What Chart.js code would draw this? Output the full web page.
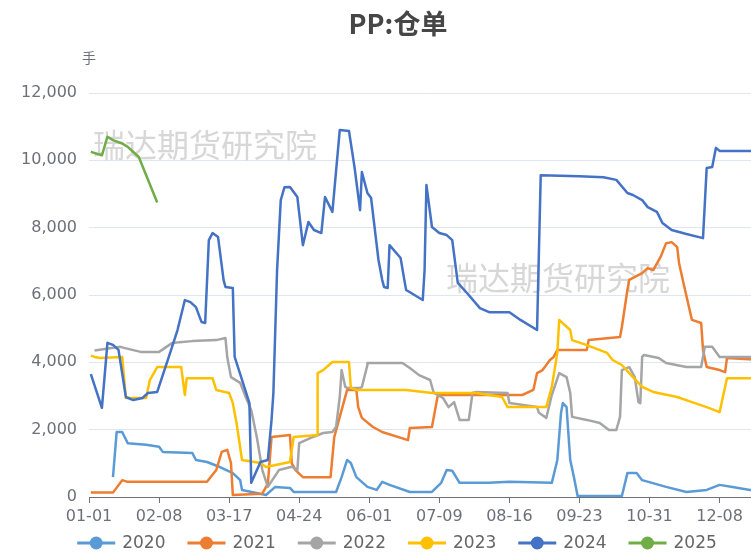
<!DOCTYPE html>
<html>
<head>
<meta charset="utf-8">
<script src="https://cdn.jsdelivr.net/npm/chart.js@4/dist/chart.umd.min.js"></script>
<style>
html,body{margin:0;padding:0;background:#fff;overflow:hidden;width:751px;height:556px;}
canvas{display:block;}
</style>
</head>
<body>
<canvas id="c" width="797" height="556"></canvas>
<script>
// ---- categories: days of the (leap) year, MM-DD ----
const monthLengths = [31,29,31,30,31,30,31,31,30,31,30,31];
const days = [];
monthLengths.forEach((n, m) => { for (let d = 1; d <= n; d++) days.push(String(m+1).padStart(2,'0') + '-' + String(d).padStart(2,'0')); });
const tickDays = [0,38,76,114,152,190,228,266,304,342];
const yTicks = [0,2000,4000,6000,8000,10000,12000];
const seriesNames = ['2020','2021','2022','2023','2024','2025'];
const seriesColors = ['#5B9BD5','#ED7D31','#A5A5A5','#FFC000','#4472C4','#70AD47'];

// ---- series values: [day index, 手] ----
const s2020 = [[13,590],[15,1930],[18,1930],[21,1600],[31,1550],[38,1490],[40,1340],[56,1310],[58,1100],[64,1040],[71,890],[78,710],[82,500],[83,210],[96,60],[101,300],[109,270],[111,150],[134,150],[137,590],[140,1100],[142,1010],[145,590],[151,300],[156,210],[159,450],[163,360],[174,150],[186,150],[191,420],[194,800],[197,780],[201,420],[217,420],[228,450],[251,420],[254,1100],[256,2500],[257,2790],[259,2670],[261,1100],[263,590],[265,30],[289,30],[292,710],[297,710],[300,500],[313,300],[324,150],[335,210],[342,360],[349,300],[365,150]];
const s2021 = [[1,130],[13,130],[18,500],[21,450],[64,450],[69,800],[72,1340],[75,1400],[77,1010],[78,60],[94,100],[97,400],[99,1780],[109,1840],[110,1000],[112,800],[116,590],[131,590],[133,1780],[137,2580],[140,3180],[145,3180],[146,2670],[148,2350],[154,2080],[159,1930],[173,1690],[174,2050],[186,2080],[189,2970],[190,3030],[235,3030],[241,3180],[243,3680],[246,3770],[250,4070],[252,4160],[254,4370],[270,4370],[271,4660],[288,4750],[289,5050],[292,6150],[293,6450],[300,6650],[303,6800],[306,6740],[310,7130],[313,7540],[316,7570],[319,7420],[320,6950],[322,6450],[327,5260],[332,5170],[333,4370],[335,3860],[342,3770],[345,3710],[346,4130],[365,4070]];
const s2022 = [[3,4350],[17,4460],[19,4430],[28,4310],[38,4310],[45,4570],[49,4600],[56,4630],[69,4660],[74,4720],[75,4150],[77,3560],[82,3390],[85,2970],[88,2580],[91,1780],[94,800],[97,300],[103,800],[110,900],[113,800],[114,1600],[120,1750],[127,1900],[132,1930],[134,2080],[136,2970],[137,3770],[139,3270],[140,3240],[147,3240],[148,3270],[151,3920],[151,3980],[170,3980],[174,3830],[179,3620],[185,3475],[187,3090],[192,2940],[195,2670],[198,2820],[201,2290],[206,2290],[208,3090],[210,3120],[227,3090],[228,2790],[243,2670],[244,2500],[248,2350],[251,3030],[255,3680],[259,3560],[261,3090],[262,2380],[270,2290],[277,2200],[282,1990],[286,1990],[288,2380],[289,3770],[293,3860],[296,3560],[298,2820],[299,2790],[300,4160],[301,4220],[309,4130],[313,3980],[324,3860],[332,3860],[334,4460],[338,4460],[342,4160],[365,4160]];
const s2023 = [[1,4200],[3,4160],[6,4130],[18,4160],[20,2940],[31,2940],[33,3475],[37,3860],[50,3860],[52,3030],[53,3530],[67,3530],[69,3180],[76,3090],[78,2790],[80,2200],[83,1100],[93,1010],[96,890],[109,1040],[111,1780],[124,1840],[124,3680],[127,3770],[132,4010],[141,4010],[142,3240],[145,3180],[172,3180],[186,3090],[210,3090],[224,2970],[227,2670],[248,2670],[251,3270],[254,4280],[255,5260],[261,4960],[262,4660],[270,4510],[281,4280],[284,4070],[289,3920],[295,3560],[300,3270],[306,3120],[319,2970],[327,2820],[335,2670],[342,2520],[346,3530],[365,3530]];
const s2024 = [[1,3650],[7,2650],[10,4580],[13,4520],[16,4370],[20,2970],[24,2880],[29,2940],[32,3090],[37,3120],[44,4280],[48,4960],[52,5850],[55,5790],[58,5640],[61,5200],[63,5170],[65,7630],[67,7840],[70,7720],[73,6440],[74,6240],[78,6210],[79,4160],[83,3480],[87,2790],[88,420],[93,1040],[97,1100],[99,2290],[100,3090],[102,6740],[104,8820],[106,9200],[109,9210],[113,8910],[116,7480],[119,8170],[122,7930],[126,7840],[128,8910],[132,8470],[136,10900],[141,10870],[144,9800],[147,8520],[148,9650],[151,9030],[153,8880],[157,7040],[159,6450],[160,6240],[162,6210],[163,7480],[169,7100],[171,6450],[172,6150],[181,5850],[182,6740],[183,9270],[186,8020],[190,7840],[194,7780],[197,7630],[200,6360],[205,6060],[212,5610],[217,5490],[228,5490],[234,5260],[243,4960],[245,9560],[266,9530],[279,9500],[286,9420],[292,9030],[295,8970],[300,8820],[303,8610],[308,8470],[311,8140],[316,7930],[324,7810],[333,7690],[335,9770],[338,9800],[340,10370],[342,10280],[365,10280]];
const s2025 = [[1,10250],[7,10150],[10,10700],[13,10600],[18,10500],[21,10400],[23,10300],[27,10100],[37,8750]];
const allSeries = [s2020, s2021, s2022, s2023, s2024, s2025];

const FONT = 'DejaVu Sans, sans-serif';
const CJK = '"Noto Sans CJK SC", sans-serif';

const datasets = allSeries.map((s, i) => ({
  label: seriesNames[i],
  data: s.map(([d, v]) => ({x: d, y: v})),
  borderColor: seriesColors[i],
  backgroundColor: seriesColors[i],
  borderWidth: 2.5,
  pointRadius: 0,
  pointHoverRadius: 0,
  tension: 0,
  borderJoinStyle: 'round',
  fill: false,
  order: seriesNames.length - 1 - i
}));

const decor = {
  id: 'decor',
  beforeDatasetsDraw(chart) {
    const ctx = chart.ctx;
    ctx.save();
    ctx.font = '32px ' + CJK;
    ctx.fillStyle = 'rgba(175,175,175,0.5)';
    ctx.textBaseline = 'middle';
    ctx.textAlign = 'left';
    ctx.fillText('瑞达期货研究院', 93, 145);
    ctx.fillText('瑞达期货研究院', 446, 278);
    ctx.restore();
  },
  afterDraw(chart) {
    const ctx = chart.ctx;
    ctx.save();
    // title
    ctx.font = 'bold 27px ' + CJK;
    ctx.fillStyle = '#464646';
    ctx.textAlign = 'center';
    ctx.textBaseline = 'middle';
    ctx.fillText('PP:仓单', 398, 24);
    // unit
    ctx.font = '14px ' + CJK;
    ctx.fillStyle = '#6E7079';
    ctx.fillText('手', 89, 58);
    // legend
    ctx.font = '17px ' + FONT;
    const iconW = 38, gapTxt = 7, gapItem = 22, cy = 543;
    const widths = seriesNames.map(n => iconW + gapTxt + ctx.measureText(n).width);
    const total = widths.reduce((a, b) => a + b, 0) + gapItem * (widths.length - 1);
    let x = 397 - total / 2;
    seriesNames.forEach((n, i) => {
      ctx.strokeStyle = seriesColors[i];
      ctx.lineWidth = 3;
      ctx.beginPath();
      ctx.moveTo(x, cy); ctx.lineTo(x + iconW, cy); ctx.stroke();
      ctx.fillStyle = seriesColors[i];
      ctx.beginPath();
      ctx.arc(x + iconW / 2, cy, 6.5, 0, Math.PI * 2);
      ctx.fill();
      ctx.fillStyle = '#666';
      ctx.textAlign = 'left';
      ctx.fillText(n, x + iconW + gapTxt, cy + 1);
      x += widths[i] + gapItem;
    });
    ctx.restore();
  }
};

new Chart(document.getElementById('c'), {
  type: 'line',
  data: { datasets },
  plugins: [decor],
  options: {
    responsive: false,
    animation: false,
    events: [],
    layout: { padding: { left: 0, right: 35, top: 93, bottom: 29 } },
    plugins: { legend: { display: false }, title: { display: false }, tooltip: { enabled: false } },
    scales: {
      x: {
        type: 'linear',
        min: 0, max: 365,
        afterBuildTicks(scale) { scale.ticks = tickDays.map(v => ({ value: v })); },
        afterFit(scale) { scale.height = 30; },
        grid: { display: true, drawOnChartArea: false, drawTicks: true, tickLength: 6, color: '#6E7079', lineWidth: 1 },
        border: { display: true, color: '#6E7079', width: 1 },
        ticks: {
          autoSkip: false, maxRotation: 0, minRotation: 0, padding: 4,
          color: '#6E7079', font: { family: FONT, size: 16 },
          callback: (v) => days[v]
        }
      },
      y: {
        min: 0, max: 12000,
        afterBuildTicks(scale) { scale.ticks = yTicks.map(v => ({ value: v })); },
        afterFit(scale) { scale.width = 89; },
        grid: { color: '#E0E6F1', drawTicks: false, lineWidth: 1 },
        border: { display: false },
        ticks: {
          padding: 12, color: '#6E7079', font: { family: FONT, size: 16 },
          callback: (v) => v.toLocaleString('en-US')
        }
      }
    }
  }
});
</script>
</body>
</html>
